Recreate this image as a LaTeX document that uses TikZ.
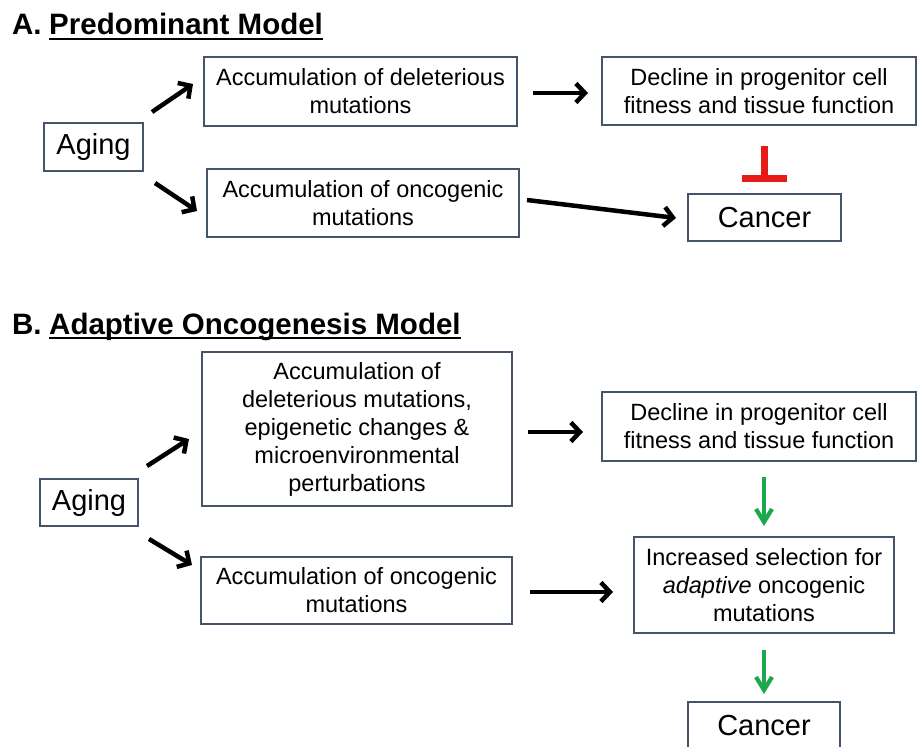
\documentclass[tikz,border=0pt]{standalone}
\usepackage{fontspec}
\setmainfont{Liberation Sans}
\usetikzlibrary{arrows.meta}
\definecolor{boxline}{HTML}{44546A}
\definecolor{inhred}{HTML}{E41B17}
\definecolor{arrgreen}{HTML}{1EA74B}
\begin{document}
\begin{tikzpicture}[x=1pt,y=1pt,
  box/.style={draw=boxline, line width=1.4pt, inner sep=0pt, align=center,
    font=\fontsize{23.5}{28}\selectfont, text=black},
  bigbox/.style={box, font=\fontsize{29}{33}\selectfont},
  titletext/.style={inner sep=0pt, anchor=base west, font=\fontsize{29.5}{33}\selectfont\bfseries},
  blackarrow/.style={line width=4.5pt, -{Straight Barb[length=9pt,width=19pt]}},
  greenarrow/.style={draw=arrgreen, line width=4.2pt, -{Straight Barb[length=13pt,width=16pt]}},
  inhibit/.style={draw=inhred, line width=7pt}]
\useasboundingbox (0,0) rectangle (917,-746);
\clip (0,0) rectangle (917,-746);

% ---------- Part A ----------
\node[titletext] (tA) at (12,-35) {A.};
\node[titletext] (tAm) at (49,-35) {Predominant Model};
\draw[line width=2.5pt] ([yshift=-4pt]tAm.base west) -- ([yshift=-4pt]tAm.base east);

\node[bigbox, minimum width=99pt, minimum height=48pt] (agingA) at (93.5,-147) {Aging};
\node[box, minimum width=313pt, minimum height=69pt] (delA) at (360.5,-91.5) {Accumulation of deleterious\\mutations};
\node[box, minimum width=314pt, minimum height=68pt] (decA) at (759,-91) {Decline in progenitor cell\\fitness and tissue function};
\node[box, minimum width=312pt, minimum height=68pt] (oncA) at (363,-203) {Accumulation of oncogenic\\mutations};
\node[bigbox, minimum width=153pt, minimum height=47pt] (canA) at (764.5,-217.5) {Cancer};

\coordinate (a1s) at (152,-112); \coordinate (a1e) at (193,-84);
\coordinate (a2s) at (155,-183); \coordinate (a2e) at (197,-211);
\coordinate (a3s) at (533,-93);  \coordinate (a3e) at (588,-93);
\coordinate (a4s) at (527,-200); \coordinate (a4e) at (676,-218);
\coordinate (i1s) at (764,-146); \coordinate (i1e) at (764,-182);

\draw[blackarrow] (a1s) -- (a1e);
\draw[blackarrow] (a2s) -- (a2e);
\draw[blackarrow] (a3s) -- (a3e);
\draw[blackarrow] (a4s) -- (a4e);
\draw[inhibit, -{Bar[width=45pt]}] (i1s) -- (i1e);

% ---------- Part B ----------
\node[titletext] (tB) at (12,-334) {B.};
\node[titletext] (tBm) at (49,-334) {Adaptive Oncogenesis Model};
\draw[line width=2.5pt] ([yshift=-4pt]tBm.base west) -- ([yshift=-4pt]tBm.base east);

\node[bigbox, minimum width=98pt, minimum height=47pt] (agingB) at (89,-502.5) {Aging};
\node[box, minimum width=310pt, minimum height=154pt] (delB) at (357,-429) {Accumulation of\\deleterious mutations,\\epigenetic changes \&\\microenvironmental\\perturbations};
\node[box, minimum width=311pt, minimum height=67pt] (oncB) at (356.5,-590.5) {Accumulation of oncogenic\\mutations};
\node[box, minimum width=314pt, minimum height=69pt] (decB) at (759,-426.5) {Decline in progenitor cell\\fitness and tissue function};
\node[box, minimum width=260pt, minimum height=96pt] (incB) at (764,-585) {Increased selection for\\\textit{adaptive} oncogenic\\mutations};
\node[bigbox, minimum width=152pt, minimum height=47pt] (canB) at (764,-725.5) {Cancer};

\coordinate (b1s) at (147,-466); \coordinate (b1e) at (189,-439);
\coordinate (b2s) at (149,-539); \coordinate (b2e) at (192,-565);
\coordinate (b3s) at (528,-432); \coordinate (b3e) at (583,-432);
\coordinate (b4s) at (530,-592); \coordinate (b4e) at (613,-592);
\coordinate (g1s) at (764,-477); \coordinate (g1e) at (764,-526);
\coordinate (g2s) at (764,-650); \coordinate (g2e) at (764,-694);

\draw[blackarrow] (b1s) -- (b1e);
\draw[blackarrow] (b2s) -- (b2e);
\draw[blackarrow] (b3s) -- (b3e);
\draw[blackarrow] (b4s) -- (b4e);
\draw[greenarrow] (g1s) -- (g1e);
\draw[greenarrow] (g2s) -- (g2e);
\end{tikzpicture}
\end{document}
